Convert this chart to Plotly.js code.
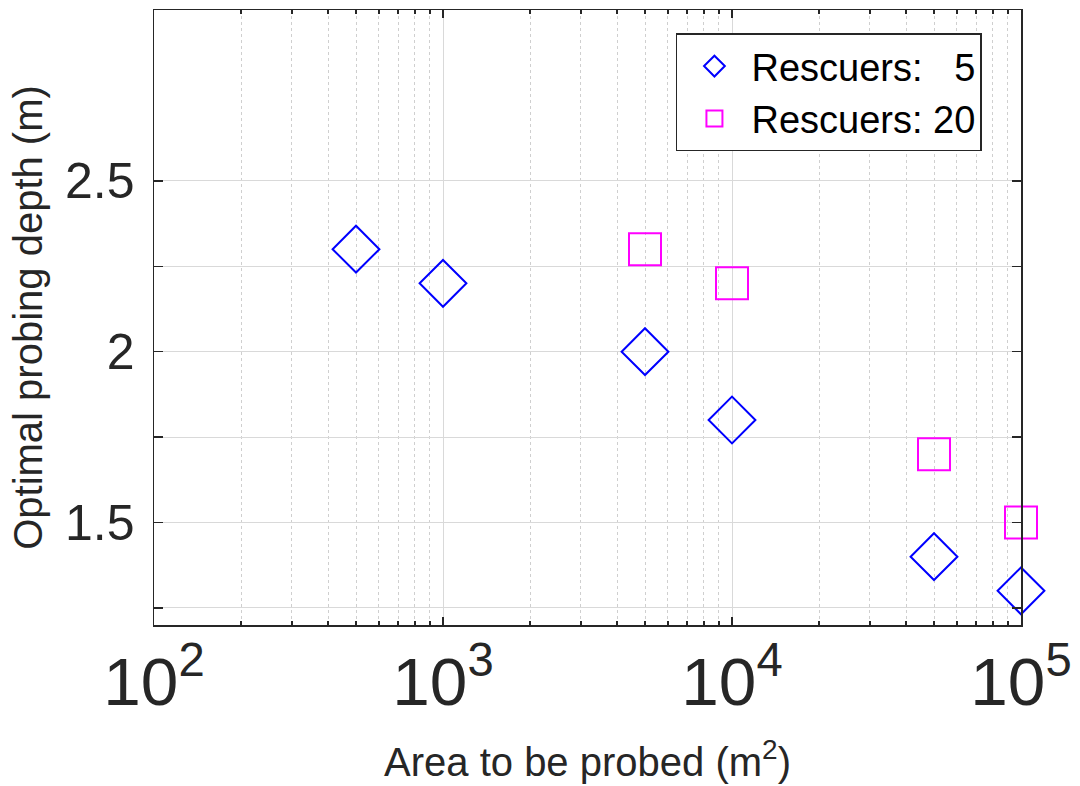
<!DOCTYPE html>
<html>
<head>
<meta charset="utf-8">
<script src="https://cdn.plot.ly/plotly-3.0.1.min.js"></script>
<style>html,body{margin:0;padding:0;background:#fff;}#chart{width:1080px;height:786px;}</style>
</head>
<body>
<div id="chart"></div>
<script>
const areas5 = [500, 1000, 5000, 10000, 50000, 100000];
const depth5 = [2.3, 2.2, 2.0, 1.8, 1.4, 1.3];
const areas20 = [5000, 10000, 50000, 100000];
const depth20 = [2.3, 2.2, 1.7, 1.5];
const seriesNames = ['Rescuers:\u2007\u00a05', 'Rescuers:\u00a020'];
const yTickVals = [1.25, 1.5, 1.75, 2, 2.25, 2.5];
const yTickText = ['', '1.5', '', '2', '', '2.5'];

const fontFam = 'Liberation Sans, Arial, Helvetica, sans-serif';
const ink = '#262626';

const traces = [
  {
    x: areas5, y: depth5, type: 'scatter', mode: 'markers', name: seriesNames[0],
    legendgroup: 'a', cliponaxis: false,
    marker: {symbol: 'diamond-open', size: 36, color: '#0000ff', line: {width: 2, color: '#0000ff'}}
  },
  {
    x: areas20, y: depth20, type: 'scatter', mode: 'markers', name: seriesNames[1],
    legendgroup: 'b', cliponaxis: false,
    marker: {symbol: 'square-open', size: 32, color: '#ff00ff', line: {width: 2, color: '#ff00ff'}}
  }
];

const layout = {
  width: 1080, height: 786,
  margin: {l: 154, r: 59, t: 10, b: 161},
  paper_bgcolor: '#ffffff', plot_bgcolor: '#ffffff',
  font: {family: fontFam, color: ink},
  showlegend: true,
  legend: {
    x: 0.602, y: 0.962, xanchor: 'left', yanchor: 'top',
    bgcolor: '#ffffff', bordercolor: ink, borderwidth: 1.5,
    font: {size: 38, color: '#000000', family: fontFam},
    itemwidth: 64, tracegroupgap: 0
  },
  xaxis: {
    type: 'log', range: [2, 5], dtick: 1, exponentformat: 'power',
    showline: true, linecolor: ink, linewidth: 1.5, mirror: 'ticks',
    ticks: 'inside', ticklen: 8, tickcolor: ink, tickwidth: 1.5,
    showgrid: true, gridcolor: '#d9d9d9', gridwidth: 1,
    zeroline: false,
    tickfont: {size: 54, color: ink, family: fontFam},
    minor: {dtick: 'D1', ticks: 'inside', ticklen: 4, tickcolor: ink, showgrid: true, gridcolor: '#cfcfcf', griddash: 'dot', gridwidth: 1},
    title: {text: 'Area to be probed (m<sup>2</sup>)', font: {size: 40, color: ink, family: fontFam}, standoff: 30},
    automargin: false
  },
  yaxis: {
    range: [1.2, 3.0], tickvals: yTickVals, ticktext: yTickText,
    showline: true, linecolor: ink, linewidth: 1.5, mirror: 'ticks',
    ticks: 'inside', ticklen: 9, tickcolor: ink, tickwidth: 1.5,
    showgrid: true, gridcolor: '#d9d9d9', gridwidth: 1,
    zeroline: false,
    tickfont: {size: 50, color: ink, family: fontFam},
    ticklabelstandoff: 8,
    title: {text: 'Optimal probing depth (m)', font: {size: 40, color: ink, family: fontFam}, standoff: 10},
    automargin: false
  }
};

Plotly.newPlot('chart', traces, layout, {displayModeBar: false, staticPlot: true});
</script>
</body>
</html>
